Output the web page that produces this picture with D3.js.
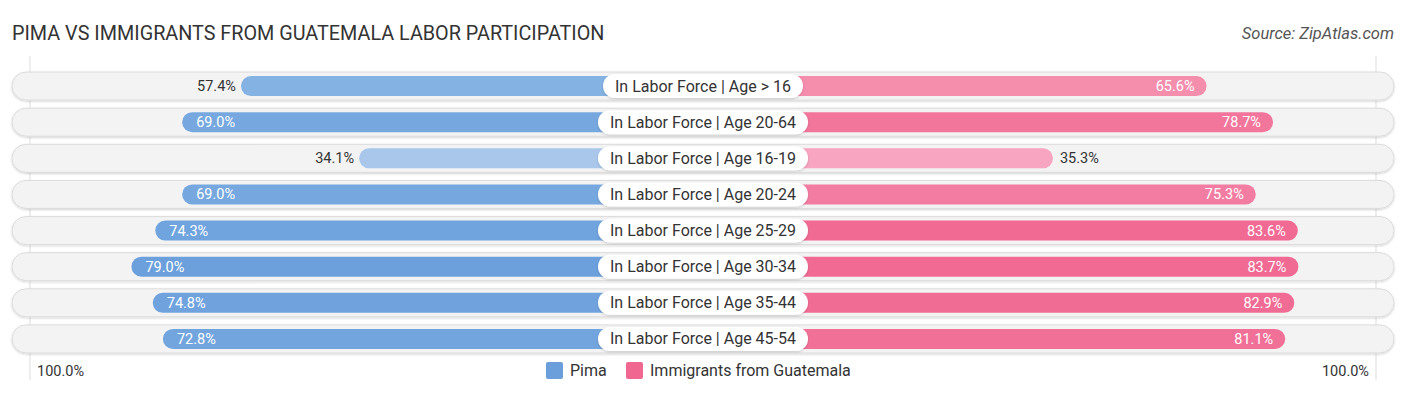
<!DOCTYPE html>
<html>
<head>
<meta charset="utf-8">
<script src="https://cdn.jsdelivr.net/npm/d3@7"></script>
<style>
  body { margin: 0; background: #fff; }
  text { font-family: Roboto, "Open Sans", sans-serif; }
</style>
</head>
<body>
<svg id="chart" width="1406" height="395"></svg>
<script>
// data
var categories = [
  "In Labor Force | Age > 16",
  "In Labor Force | Age 20-64",
  "In Labor Force | Age 16-19",
  "In Labor Force | Age 20-24",
  "In Labor Force | Age 25-29",
  "In Labor Force | Age 30-34",
  "In Labor Force | Age 35-44",
  "In Labor Force | Age 45-54"
];
var pima = [57.4, 69.0, 34.1, 69.0, 74.3, 79.0, 74.8, 72.8];
var guatemala = [65.6, 78.7, 35.3, 75.3, 83.6, 83.7, 82.9, 81.1];
var seriesNames = ["Pima", "Immigrants from Guatemala"];
var axisLabels = ["100.0%", "100.0%"];

var width = 1406, height = 395;
var centerX = 703;
var svg = d3.select("#chart");

// title + source
svg.append("text")
    .attr("x", 12)
    .attr("y", 40)
    .attr("font-size", 19.8)
    .attr("fill", "#333")
    .text("PIMA VS IMMIGRANTS FROM GUATEMALA LABOR PARTICIPATION");

svg.append("text")
    .attr("x", 1394)
    .attr("y", 39)
    .attr("text-anchor", "end")
    .attr("font-size", 16.5)
    .attr("font-style", "italic")
    .attr("fill", "#555")
    .text("Source: ZipAtlas.com");

// scales
var y = d3.scaleBand()
    .domain(categories)
    .range([68, 357])
    .paddingInner(0.2)
    .paddingOuter(0.1);

var xLeft = d3.scaleLinear().domain([0, 100]).range([532, 25]);
var xRight = d3.scaleLinear().domain([0, 100]).range([874, 1381]);

var blueColor = d3.scaleLinear().domain([30, 60, 80]).range(["#aecbec", "#80b0e2", "#6a9fdc"]);
var pinkColor = d3.scaleLinear().domain([30, 70, 85]).range(["#f7a9c3", "#f589aa", "#f06792"]);

var defs = svg.append("defs");
var shadow = defs.append("filter").attr("id", "shadow")
    .attr("x", "-5%").attr("y", "-30%").attr("width", "110%").attr("height", "160%");
shadow.append("feDropShadow")
    .attr("dx", 0).attr("dy", 1).attr("stdDeviation", 1)
    .attr("flood-color", "#000").attr("flood-opacity", 0.18);

// gridlines at 100%
svg.append("line")
    .attr("x1", 30).attr("x2", 30).attr("y1", 56).attr("y2", 380)
    .attr("stroke", "#ddd");
svg.append("line")
    .attr("x1", 1376).attr("x2", 1376).attr("y1", 56).attr("y2", 380)
    .attr("stroke", "#ddd");

var rowH = 28, barH = 20;

var rows = svg.selectAll(".row")
    .data(categories)
    .enter().append("g")
    .attr("class", "row")
    .attr("transform", function (d) { return "translate(0," + (y(d) + y.bandwidth() / 2) + ")"; });

rows.append("rect")
    .attr("x", 12)
    .attr("y", -rowH / 2)
    .attr("width", 1382)
    .attr("height", rowH)
    .attr("rx", rowH / 2)
    .attr("fill", "#f3f3f3")
    .attr("stroke", "#dcdcdc")
    .attr("filter", "url(#shadow)");

// left bars (Pima) run in under the label to the centre
rows.append("rect")
    .attr("x", function (d, i) { return xLeft(pima[i]); })
    .attr("y", -barH / 2)
    .attr("width", function (d, i) { return centerX + 10 - xLeft(pima[i]); })
    .attr("height", barH)
    .attr("rx", barH / 2)
    .attr("fill", function (d, i) { return blueColor(pima[i]); });

// right bars (Guatemala)
rows.append("rect")
    .attr("x", centerX - 10)
    .attr("y", -barH / 2)
    .attr("width", function (d, i) { return xRight(guatemala[i]) - centerX + 10; })
    .attr("height", barH)
    .attr("rx", barH / 2)
    .attr("fill", function (d, i) { return pinkColor(guatemala[i]); });

// value labels
rows.append("text")
    .attr("x", function (d, i) {
        return pima[i] > 60 ? xLeft(pima[i]) + 14 : xLeft(pima[i]) - 5;
    })
    .attr("y", 5)
    .attr("text-anchor", function (d, i) { return pima[i] > 60 ? "start" : "end"; })
    .attr("font-size", 14.5)
    .attr("fill", function (d, i) { return pima[i] > 60 ? "#fff" : "#333"; })
    .text(function (d, i) { return pima[i].toFixed(1) + "%"; });

rows.append("text")
    .attr("x", function (d, i) {
        return guatemala[i] > 60 ? xRight(guatemala[i]) - 12 : xRight(guatemala[i]) + 7;
    })
    .attr("y", 5)
    .attr("text-anchor", function (d, i) { return guatemala[i] > 60 ? "end" : "start"; })
    .attr("font-size", 14.5)
    .attr("fill", function (d, i) { return guatemala[i] > 60 ? "#fff" : "#333"; })
    .text(function (d, i) { return guatemala[i].toFixed(1) + "%"; });

// category pills
rows.each(function (d) {
    var g = d3.select(this);
    var label = g.append("text")
        .attr("x", centerX)
        .attr("y", 5.5)
        .attr("text-anchor", "middle")
        .attr("font-size", 16)
        .attr("fill", "#333")
        .text(d);
    var w = label.node().getComputedTextLength() + 24;
    g.insert("rect", function () { return label.node(); })
        .attr("x", centerX - w / 2)
        .attr("y", -12)
        .attr("width", w)
        .attr("height", 24)
        .attr("rx", 12)
        .attr("fill", "#fff")
        .attr("filter", "url(#shadow)");
});

// axis labels
svg.append("text")
    .attr("x", 37).attr("y", 376)
    .attr("font-size", 14.5).attr("fill", "#333")
    .text(axisLabels[0]);
svg.append("text")
    .attr("x", 1369).attr("y", 376)
    .attr("text-anchor", "end")
    .attr("font-size", 14.5).attr("fill", "#333")
    .text(axisLabels[1]);

// legend
var legendColors = ["#6a9fdc", "#f06792"];
var legendX = [546, 626];
var legend = svg.selectAll(".legend")
    .data(seriesNames)
    .enter().append("g")
    .attr("class", "legend")
    .attr("transform", function (d, i) { return "translate(" + legendX[i] + ",362)"; });

legend.append("rect")
    .attr("width", 17).attr("height", 17).attr("rx", 2)
    .attr("fill", function (d, i) { return legendColors[i]; });

legend.append("text")
    .attr("x", 24).attr("y", 14)
    .attr("font-size", 16).attr("fill", "#333")
    .text(function (d) { return d; });
</script>
</body>
</html>
